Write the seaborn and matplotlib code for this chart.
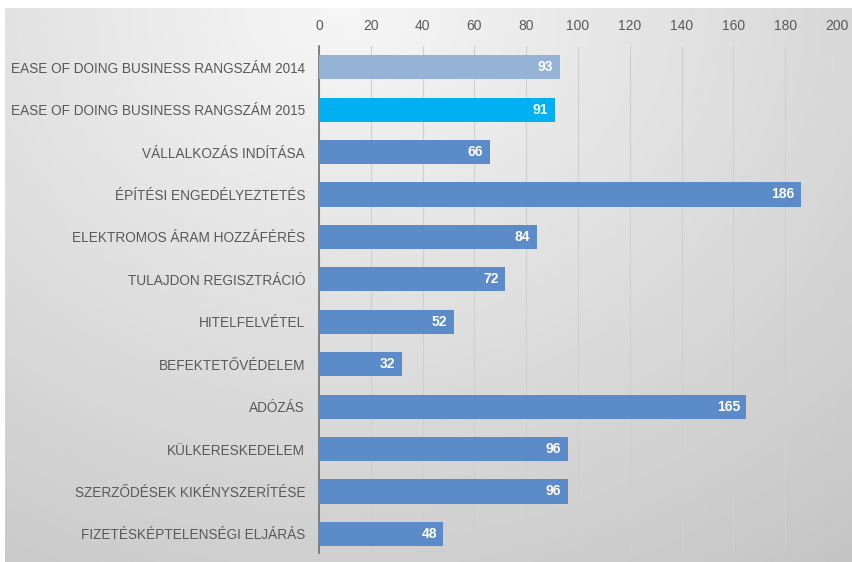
import numpy as np
import pandas as pd
import matplotlib
matplotlib.use("Agg")
import matplotlib.pyplot as plt
import seaborn as sns

# Chart data
categories = [
    "EASE OF DOING BUSINESS RANGSZÁM 2014",
    "EASE OF DOING BUSINESS RANGSZÁM 2015",
    "VÁLLALKOZÁS INDÍTÁSA",
    "ÉPÍTÉSI ENGEDÉLYEZTETÉS",
    "ELEKTROMOS ÁRAM HOZZÁFÉRÉS",
    "TULAJDON REGISZTRÁCIÓ",
    "HITELFELVÉTEL",
    "BEFEKTETŐVÉDELEM",
    "ADÓZÁS",
    "KÜLKERESKEDELEM",
    "SZERZŐDÉSEK KIKÉNYSZERÍTÉSE",
    "FIZETÉSKÉPTELENSÉGI ELJÁRÁS",
]
ranks = [93, 91, 66, 186, 84, 72, 52, 32, 165, 96, 96, 48]
x_ticks = [0, 20, 40, 60, 80, 100, 120, 140, 160, 180, 200]

bar_colors = ["#95b3d7", "#00b0f0"] + ["#5b8bc8"] * 10

sns.set_style("white")
plt.rcParams["font.family"] = ["Liberation Sans", "DejaVu Sans"]

df = pd.DataFrame({"category": categories, "rank": ranks})

fig = plt.figure(figsize=(8.52, 5.62), dpi=100)

# Gray gradient background panel (white strip on top / left)
bg = fig.add_axes([5 / 852, 0, 1 - 5 / 852, 1 - 8 / 562], zorder=0)
gx, gy = np.meshgrid(np.linspace(0, 1, 300), np.linspace(0, 1, 200))
dist = np.sqrt(((gx - 0.4) / 1.0) ** 2 + ((gy - 0.0) / 1.3) ** 2)
shade = 0.965 - 0.20 * np.clip(dist, 0, 1)
bg.imshow(shade, cmap="gray", vmin=0, vmax=1, aspect="auto",
          extent=[0, 1, 1, 0], interpolation="bilinear")
bg.axis("off")

ax = fig.add_axes([319 / 852, 1 - 553 / 562, (837 - 319) / 852, (553 - 46) / 562], zorder=1)
ax.patch.set_alpha(0)

sns.barplot(data=df, x="rank", y="category", hue="category",
            palette=bar_colors, saturation=1, legend=False, width=0.57,
            ax=ax, edgecolor="none", zorder=3)

# Value labels inside bar ends
for i, v in enumerate(ranks):
    ax.text(v - 2.5, i, str(v), ha="right", va="center", color="white",
            fontsize=10, fontweight="bold", zorder=4)

ax.set_xlim(0, 200)
ax.set_ylim(11.45, -0.5)
ax.set_xticks(x_ticks)
ax.xaxis.tick_top()
ax.tick_params(axis="x", length=0, pad=9, labelsize=10, labelcolor="#595959")
ax.tick_params(axis="y", length=0, pad=10, labelsize=9.8, labelcolor="#595959")
ax.grid(axis="x", color="#cfcfcf", linewidth=0.8, zorder=0)
ax.set_xlabel("")
ax.set_ylabel("")
for side in ["top", "right", "bottom"]:
    ax.spines[side].set_visible(False)
ax.spines["left"].set_color("#707070")
ax.spines["left"].set_linewidth(1.2)

fig.savefig("out.png", dpi=100)
